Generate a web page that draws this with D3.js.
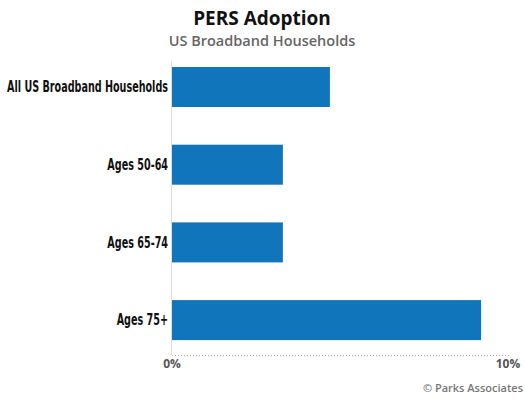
<!DOCTYPE html>
<html><head><meta charset="utf-8">
<script src="https://cdn.jsdelivr.net/npm/d3@7"></script>
<style>body{margin:0;background:#fff}</style>
</head><body>
<script>
const categories = ["All US Broadband Households","Ages 50-64","Ages 65-74","Ages 75+"];
const values = [4.7, 3.3, 3.3, 9.2];
const tickValues = [0, 10];
const title = "PERS Adoption";
const subtitle = "US Broadband Households";
const credit = "© Parks Associates";

const W = 525, H = 400;
const svg = d3.select("body").append("svg").attr("width", W).attr("height", H);
const x = d3.scaleLinear().domain([0, 10]).range([172, 508]);
const y = d3.scaleBand().domain(categories).range([48.15, 358.95]).paddingInner(0.485).paddingOuter(0.2425);

svg.append("text").attr("x", 262).attr("y", 25).attr("text-anchor", "middle")
  .attr("font-family", "'Open Sans', sans-serif").attr("font-weight", "bold").attr("font-size", 19).attr("fill", "#111").text(title);
svg.append("text").attr("x", 262).attr("y", 46).attr("text-anchor", "middle")
  .attr("font-family", "'Open Sans', sans-serif").attr("font-weight", 600).attr("font-size", 14.5).attr("fill", "#666").text(subtitle);

svg.append("line").attr("x1", 171.5).attr("x2", 171.5).attr("y1", 61).attr("y2", 355).attr("stroke", "#ddd");
svg.append("line").attr("x1", 172).attr("x2", x(10)+1).attr("y1", 355.5).attr("y2", 355.5)
  .attr("stroke", "#aaa").attr("stroke-dasharray", "1,2");

svg.selectAll("rect.bar").data(values).join("rect").attr("class", "bar")
  .attr("x", x(0)).attr("y", (d,i) => y(categories[i]))
  .attr("width", d => x(d) - x(0)).attr("height", y.bandwidth()).attr("fill", "#1175bc");

const labelG = svg.append("g");
const labels = labelG.selectAll("text.cat").data(categories).join("text").attr("class", "cat")
  .attr("x", 0).attr("y", d => y(d) + y.bandwidth()/2).attr("dy", "0.35em").attr("text-anchor", "end")
  .attr("font-family", "'DejaVu Sans Condensed', 'DejaVu Sans', sans-serif").attr("font-weight", "bold").attr("font-size", 15)
  .attr("fill", "#111").text(d => d);
// condense horizontally so the longest label fits the left margin
const maxW = d3.max(labels.nodes(), n => n.getComputedTextLength());
const sx = 161 / maxW;
labelG.attr("transform", `translate(168,0) scale(${sx},1)`);

svg.selectAll("text.tick").data(tickValues).join("text").attr("class", "tick")
  .attr("x", d => x(d)).attr("y", 368).attr("text-anchor", "middle")
  .attr("font-family", "'Open Sans', sans-serif").attr("font-weight", "bold").attr("font-size", 12).attr("fill", "#555")
  .text(d => d + "%");

svg.append("text").attr("x", 523).attr("y", 392).attr("text-anchor", "end")
  .attr("font-family", "'Open Sans', sans-serif").attr("font-weight", 600).attr("font-size", 11).attr("fill", "#777").text(credit);
</script>
</body></html>
